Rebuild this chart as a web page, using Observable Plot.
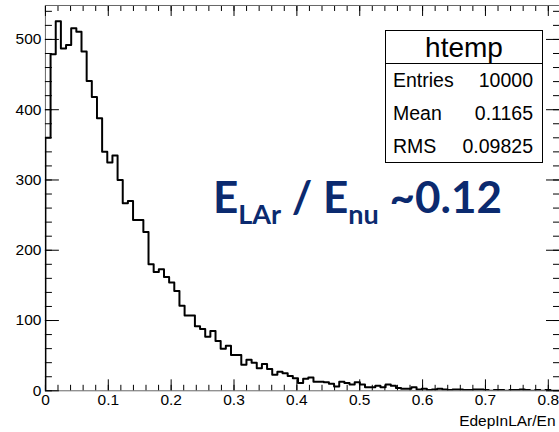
<!DOCTYPE html>
<html>
<head>
<meta charset="utf-8">
<script src="https://cdn.jsdelivr.net/npm/d3@7"></script>
<script src="https://cdn.jsdelivr.net/npm/@observablehq/plot@0.6"></script>
<style>
  html, body { margin: 0; padding: 0; overflow: hidden; background: #fff; }
  #wrap { position: relative; width: 559px; height: 432px; overflow: hidden; background: #fff; }
  #wrap svg { position: absolute; left: 0; top: 0; }
  #stats { position: absolute; left: 385px; top: 30px; width: 158px; height: 133px; border: 1px solid #000;
           box-sizing: border-box; background: #fff; font-family: "Liberation Sans", Arial, sans-serif; color: #000; }
  #stats .title { height: 33px; line-height: 33px; text-align: center; font-size: 28px; border-bottom: 1px solid #000; box-sizing: border-box; }
  #stats .row { height: 33px; line-height: 33px; font-size: 19.5px; display: flex; justify-content: space-between; padding: 0 9px 0 7px; }
  #note { position: absolute; left: 213px; top: 174px; font-family: Lato, "Open Sans", sans-serif; font-weight: 700;
          font-size: 44px; line-height: 44px; color: #0b2a6f; white-space: nowrap; }
  #note .sub { font-size: 27px; position: relative; top: 11px; }
</style>
</head>
<body>
<div id="wrap"></div>
<script>
// ---- data ----
const binLow = 0;
const binHigh = 0.82;
const counts = [
  360, 479, 526, 487, 492, 516, 511, 483, 441, 418,
  388, 340, 325, 335, 300, 267, 270, 243, 243, 226,
  180, 169, 173, 162, 154, 142, 121, 107, 107, 92,
  88, 77, 85, 71, 60, 64, 51, 51, 37, 44,
  40, 32, 38, 31, 23, 27, 25, 21, 18, 11,
  17, 19, 13, 13, 12, 10, 6, 13, 11, 9,
  12, 9, 5, 5, 7, 5, 9, 7, 4, 3,
  3, 5, 2, 3, 1, 2, 3, 2, 1, 2,
  2, 1, 1, 2, 2, 1, 0, 1, 1, 0,
  1, 1, 2, 1, 0, 1, 0, 1, 0, 0
];
const xTickValues = [0, 0.1, 0.2, 0.3, 0.4, 0.5, 0.6, 0.7, 0.8];
const xTickLabels = ["0", "0.1", "0.2", "0.3", "0.4", "0.5", "0.6", "0.7", "0.8"];
const yTickValues = [0, 100, 200, 300, 400, 500];
const yTickLabels = ["0", "100", "200", "300", "400", "500"];
const xTitle = "EdepInLAr/En";
const statsTitle = "htemp";
const statsNames = ["Entries", "Mean", "RMS"];
const statsValues = ["10000", "0.1165", "0.09825"];
const noteMain1 = "E", noteSub1 = "LAr", noteMain2 = " / E", noteSub2 = "nu", noteMain3 = " ~0.12";

// ---- build step outline ----
const nb = counts.length;
const bw = (binHigh - binLow) / nb;
const steps = [{x: binLow, y: 0}];
counts.forEach((c, i) => steps.push({x: binLow + i * bw, y: c}));
steps.push({x: binHigh, y: counts[nb - 1]});
steps.push({x: binHigh, y: 0});

const xMinor = d3.range(0, 0.8179, 0.02);
const yMinor = d3.range(0, 541, 20);
const font = '"Liberation Sans", Arial, sans-serif';
const empty = () => "";

const chart = Plot.plot({
  width: 560,
  height: 432,
  marginLeft: 45,
  marginRight: 0,
  marginTop: 5,
  marginBottom: 41,
  x: {domain: [0, 0.8178]},
  y: {domain: [0, 548.3]},
  style: {fontFamily: font, fontSize: "15.5px", color: "#000", background: "transparent", overflow: "visible"},
  marks: [
    Plot.ruleX([0], {stroke: "#666"}),
    Plot.ruleY([0], {stroke: "#666"}),
    Plot.ruleY([548.3], {stroke: "#666"}),
    Plot.line(steps, {x: "x", y: "y", curve: "step-after", stroke: "#000", strokeWidth: 2, clip: true}),
    Plot.axisX({anchor: "bottom", ticks: xTickValues, tickSize: 0, tickPadding: 3,
                tickFormat: d => xTickLabels[xTickValues.indexOf(d)], label: null}),
    Plot.axisX({anchor: "bottom", ticks: xTickValues, tickSize: -11, tickFormat: empty, label: null}),
    Plot.axisX({anchor: "bottom", ticks: xMinor, tickSize: -5.5, tickFormat: empty, label: null}),
    Plot.axisX({anchor: "top", ticks: xTickValues, tickSize: -10, tickFormat: empty, label: null}),
    Plot.axisX({anchor: "top", ticks: xMinor, tickSize: -5, tickFormat: empty, label: null}),
    Plot.axisY({anchor: "left", ticks: yTickValues, tickSize: 0, tickPadding: 4,
                tickFormat: d => yTickLabels[yTickValues.indexOf(d)], label: null}),
    Plot.axisY({anchor: "left", ticks: yTickValues, tickSize: -14, tickFormat: empty, label: null}),
    Plot.axisY({anchor: "left", ticks: yMinor, tickSize: -7, tickFormat: empty, label: null}),
    Plot.axisY({anchor: "right", ticks: yTickValues, tickSize: -14, tickFormat: empty, label: null}),
    Plot.axisY({anchor: "right", ticks: yMinor, tickSize: -7, tickFormat: empty, label: null}),
    Plot.text([xTitle], {frameAnchor: "bottom-right", text: d => d, textAnchor: "end", lineAnchor: "middle",
                         dx: -4, dy: 30, fontSize: 15.5, fill: "#000"})
  ]
});

const wrap = document.getElementById("wrap");
wrap.appendChild(chart);

const stats = document.createElement("div");
stats.id = "stats";
const t = document.createElement("div");
t.className = "title";
t.textContent = statsTitle;
stats.appendChild(t);
statsNames.forEach((n, i) => {
  const r = document.createElement("div");
  r.className = "row";
  const a = document.createElement("span"); a.textContent = n;
  const b = document.createElement("span"); b.textContent = statsValues[i];
  r.appendChild(a); r.appendChild(b);
  stats.appendChild(r);
});
wrap.appendChild(stats);

const note = document.createElement("div");
note.id = "note";
const parts = [[noteMain1, false], [noteSub1, true], [noteMain2, false], [noteSub2, true], [noteMain3, false]];
parts.forEach(([txt, sub]) => {
  const s = document.createElement("span");
  if (sub) s.className = "sub";
  s.textContent = txt;
  note.appendChild(s);
});
wrap.appendChild(note);
</script>
</body>
</html>
